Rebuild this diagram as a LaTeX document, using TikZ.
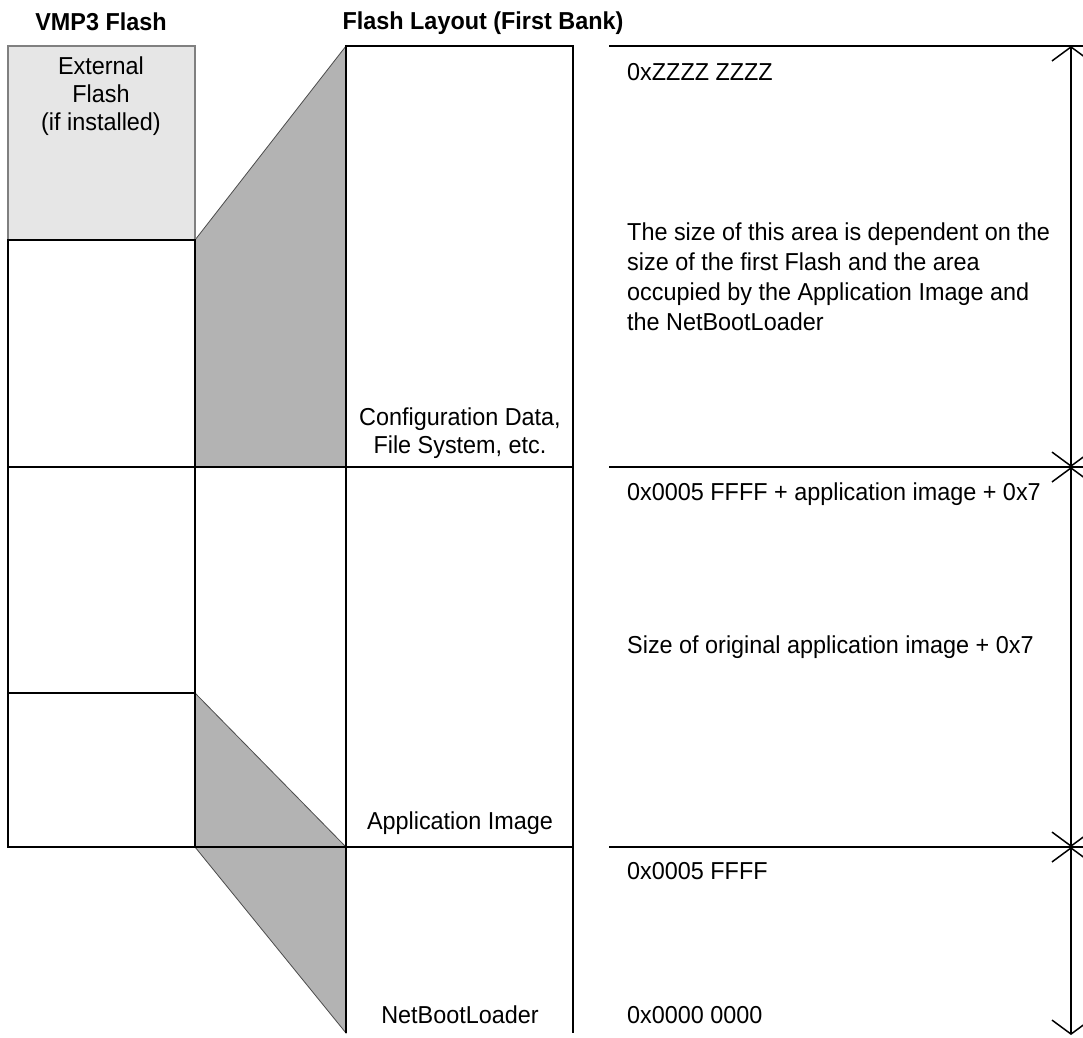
\documentclass[tikz,border=0pt]{standalone}
\usepackage{fontspec}
\setmainfont[FakeStretch=0.955]{Liberation Sans}
\usetikzlibrary{arrows.meta}
\definecolor{extfill}{HTML}{E6E6E6}
\definecolor{extdraw}{HTML}{808080}
\definecolor{wedge}{HTML}{B3B3B3}
\begin{document}
\begin{tikzpicture}[x=1pt,y=-1pt,
  boxline/.style={draw=black,line width=2pt},
  wedgefill/.style={fill=wedge,draw=black!70,line width=0.8pt},
  txt/.style={inner sep=0pt,font=\fontsize{24.5}{28}\selectfont},
  ttl/.style={inner sep=0pt,font=\fontsize{24.5}{28}\selectfont\bfseries},
  dim/.style={line width=1.5pt,{Straight Barb[length=14pt,width=38pt]}-{Straight Barb[length=14pt,width=38pt]}}
]
\useasboundingbox (0,0) rectangle (1083,1037);
\fill[white] (0,0) rectangle (1083,1037);

% titles
\node[ttl,anchor=base] (t1) at (101,30) {VMP3 Flash};
\node[ttl,anchor=base] (t2) at (483,29) {Flash Layout (First Bank)};

% wedges
\path[wedgefill] (195,240) -- (346,46) -- (346,467) -- (195,467) -- cycle;
\path[wedgefill] (195,693) -- (346,847) -- (346,1033) -- (195,847) -- cycle;

% external flash
\path[fill=extfill,draw=extdraw,line width=2.5pt] (8,46) rectangle (195,240);

% left column
\draw[boxline] (8,240) rectangle (195,467);
\draw[boxline] (8,467) rectangle (195,693);
\draw[boxline] (8,693) rectangle (195,847);
\draw[boxline] (195,467) rectangle (346,847);

% right column
\draw[boxline] (346,1033) -- (346,46) -- (573,46) -- (573,1033);
\draw[boxline] (346,467) -- (573,467);
\draw[boxline] (346,847) -- (573,847);

% address lines
\coordinate (a0) at (1071,46);
\coordinate (a1) at (1071,467);
\coordinate (a2) at (1071,847);
\coordinate (a3) at (1071,1035);
\draw[boxline] (609,46) -- (1083,46);
\draw[boxline] (609,467) -- (1083,467);
\draw[boxline] (609,847) -- (1083,847);
\draw[dim] (a0) -- (a1);
\draw[dim] (a1) -- (a2);
\draw[dim] (a2) -- (a3);

% texts left
\node[txt,anchor=base] (e1) at (101,74) {External};
\node[txt,anchor=base] (e2) at (101,102) {Flash};
\node[txt,anchor=base] (e3) at (101,130) {(if installed)};

% texts middle
\node[txt,anchor=base] (c1) at (460,425) {Configuration Data,};
\node[txt,anchor=base] (c2) at (460,453) {File System, etc.};
\node[txt,anchor=base] (ai) at (460,829) {Application Image};
\node[txt,anchor=base] (nb) at (460,1023) {NetBootLoader};

% texts right
\node[txt,anchor=base west] (r0) at (627,80) {0xZZZZ ZZZZ};
\node[txt,anchor=base west] (p1) at (627,240) {The size of this area is dependent on the};
\node[txt,anchor=base west] (p2) at (627,270) {size of the first Flash and the area};
\node[txt,anchor=base west] (p3) at (627,300) {occupied by the Application Image and};
\node[txt,anchor=base west] (p4) at (627,330) {the NetBootLoader};
\node[txt,anchor=base west] (r1) at (627,500) {0x0005 FFFF + application image + 0x7};
\node[txt,anchor=base west] (r2) at (627,653) {Size of original application image + 0x7};
\node[txt,anchor=base west] (r3) at (627,879) {0x0005 FFFF};
\node[txt,anchor=base west] (r4) at (627,1023) {0x0000 0000};
\end{tikzpicture}
\end{document}
